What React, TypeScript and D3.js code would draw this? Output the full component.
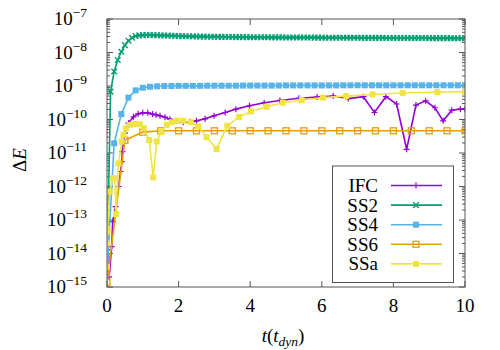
import React from 'react';
import * as d3 from 'd3';

// IFC: irregular output times
const ifcT = [0, 0.01, 0.02, 0.03, 0.06, 0.13, 0.16, 0.24, 0.32, 0.38, 0.41, 0.43, 0.5, 0.6, 0.74, 0.87, 1.0, 1.14, 1.27, 1.37, 1.48, 1.62, 1.76, 1.93, 2.13, 2.32, 2.5, 2.74, 2.99, 3.3, 3.6, 3.98, 4.39, 4.83, 5.36, 5.87, 6.32, 6.74, 7.16, 7.47, 7.79, 8.09, 8.37, 8.63, 8.9, 9.16, 9.39, 9.63, 9.87, 10];
const ifcE = [1.3e-14, 8e-15, 5e-15, 3.5e-15, 2e-15, 1.6e-14, 8.9e-14, 2.5e-13, 1e-12, 2.8e-12, 5.5e-12, 1.1e-11, 3.9e-11, 7.8e-11, 1.2e-10, 1.48e-10, 1.58e-10, 1.58e-10, 1.45e-10, 1.38e-10, 1.29e-10, 1.17e-10, 1.02e-10, 9.1e-11, 8.3e-11, 8.5e-11, 9.1e-11, 1.05e-10, 1.29e-10, 1.62e-10, 2.04e-10, 2.57e-10, 3.16e-10, 3.7e-10, 4.3e-10, 4.7e-10, 5.0e-10, 4.2e-10, 4.8e-10, 1.62e-10, 4.8e-10, 2.9e-10, 1.29e-11, 2.7e-10, 3.6e-10, 2.24e-10, 9.1e-11, 1.9e-10, 2.04e-10, 2.04e-10];

// SS2: output every 0.1
const ss2E = [2.5e-15, 6.8e-10, 2.7e-9, 6.0e-9, 1.05e-8, 1.66e-8, 2.24e-8, 2.75e-8, 3.1e-8, 3.25e-8,
  3.3e-8, 3.32e-8, 3.32e-8, 3.3e-8, 3.28e-8, 3.25e-8, 3.22e-8, 3.19e-8, 3.16e-8, 3.13e-8,
  3.1e-8, 3.08e-8, 3.06e-8, 3.04e-8, 3.02e-8, 3.0e-8, 2.98e-8, 2.97e-8, 2.96e-8, 2.95e-8,
  2.94e-8, 2.93e-8, 2.92e-8, 2.91e-8, 2.9e-8, 2.89e-8, 2.88e-8, 2.88e-8, 2.87e-8, 2.87e-8,
  2.86e-8, 2.86e-8, 2.85e-8, 2.85e-8, 2.84e-8, 2.84e-8, 2.83e-8, 2.83e-8, 2.82e-8, 2.82e-8,
  2.81e-8, 2.81e-8, 2.8e-8, 2.8e-8, 2.8e-8, 2.79e-8, 2.79e-8, 2.79e-8, 2.78e-8, 2.78e-8,
  2.78e-8, 2.77e-8, 2.77e-8, 2.77e-8, 2.76e-8, 2.76e-8, 2.76e-8, 2.75e-8, 2.75e-8, 2.75e-8,
  2.75e-8, 2.74e-8, 2.74e-8, 2.74e-8, 2.73e-8, 2.73e-8, 2.73e-8, 2.73e-8, 2.72e-8, 2.72e-8,
  2.72e-8, 2.72e-8, 2.71e-8, 2.71e-8, 2.71e-8, 2.71e-8, 2.7e-8, 2.7e-8, 2.7e-8, 2.7e-8,
  2.69e-8, 2.69e-8, 2.69e-8, 2.68e-8, 2.68e-8, 2.68e-8, 2.68e-8, 2.67e-8, 2.67e-8, 2.67e-8,
  2.67e-8];

// SS4: output every 0.2
const ss4E = [2.5e-15, 1.95e-11, 1.45e-10, 4.5e-10, 7.4e-10, 8.9e-10, 9.5e-10, 9.8e-10,
  1.0e-9, 1.0e-9, 1.01e-9, 1.01e-9, 1.01e-9, 1.01e-9, 1.02e-9, 1.02e-9, 1.02e-9, 1.02e-9,
  1.02e-9, 1.03e-9, 1.03e-9, 1.03e-9, 1.03e-9, 1.03e-9, 1.03e-9, 1.04e-9, 1.04e-9, 1.04e-9,
  1.04e-9, 1.04e-9, 1.04e-9, 1.04e-9, 1.04e-9, 1.05e-9, 1.05e-9, 1.05e-9, 1.05e-9, 1.05e-9,
  1.05e-9, 1.05e-9, 1.05e-9, 1.05e-9, 1.05e-9, 1.05e-9, 1.05e-9, 1.05e-9, 1.05e-9, 1.05e-9,
  1.05e-9, 1.05e-9, 1.05e-9];

// SS6: output every 0.5
const ss6E = [1.4e-15, 2.4e-11, 4.2e-11, 4.6e-11, 4.6e-11, 4.6e-11, 4.6e-11, 4.6e-11, 4.6e-11,
  4.6e-11, 4.6e-11, 4.6e-11, 4.6e-11, 4.6e-11, 4.6e-11, 4.6e-11, 4.6e-11, 4.6e-11, 4.6e-11,
  4.6e-11, 4.6e-11];

// SSa: irregular output times
const ssaT = [0, 0.005, 0.01, 0.015, 0.07, 0.16, 0.22, 0.25, 0.32, 0.41, 0.46, 0.53, 0.64, 0.78, 0.92, 1.03, 1.18, 1.29, 1.39, 1.52, 1.67, 1.81, 1.96, 2.13, 2.34, 2.55, 2.78, 3.06, 3.36, 3.69, 4.02, 4.46, 4.91, 5.44, 6.03, 6.68, 7.42, 8.26, 9.23, 10];
const ssaE = [4e-15, 2e-14, 5.6e-14, 4.5e-14, 7e-13, 1.74e-12, 1.74e-12, 1.5e-13, 4.9e-12, 2.2e-11, 3.5e-11, 5.5e-11, 6.9e-11, 7.4e-11, 7.2e-11, 5.5e-11, 2.45e-11, 1.86e-12, 2.2e-11, 4.4e-11, 6.9e-11, 8.3e-11, 9.1e-11, 9.1e-11, 8.3e-11, 6.2e-11, 2.95e-11, 1.32e-11, 6.5e-11, 1.2e-10, 1.74e-10, 2.4e-10, 3.16e-10, 3.8e-10, 4.5e-10, 5.0e-10, 5.6e-10, 6.2e-10, 6.6e-10, 6.8e-10];

const xTicks = [0, 2, 4, 6, 8, 10];
const yExps = [-7, -8, -9, -10, -11, -12, -13, -14, -15];

const FONT = "'Liberation Serif', 'DejaVu Serif', serif";
const AXIS = '#555';

type Pt = { t: number; e: number };

const series = [
  { name: 'IFC', color: '#9400d3', marker: 'plus', pts: ifcT.map((t, i) => ({ t, e: ifcE[i] })) },
  { name: 'SS2', color: '#009e73', marker: 'cross', pts: ss2E.map((e, i) => ({ t: i * 0.1, e })) },
  { name: 'SS4', color: '#56b4e9', marker: 'square', pts: ss4E.map((e, i) => ({ t: i * 0.2, e })) },
  { name: 'SS6', color: '#e69f00', marker: 'open', pts: ss6E.map((e, i) => ({ t: i * 0.5, e })) },
  { name: 'SSa', color: '#f0e442', marker: 'square', pts: ssaT.map((t, i) => ({ t, e: ssaE[i] })) },
];

function Marker({ kind, x, y, color }: { kind: string; x: number; y: number; color: string }) {
  if (kind === 'plus') {
    return <path d={`M${x - 3},${y}H${x + 3}M${x},${y - 3}V${y + 3}`} stroke={color} strokeWidth={1.2} />;
  }
  if (kind === 'cross') {
    return <path d={`M${x - 2.8},${y - 2.8}L${x + 2.8},${y + 2.8}M${x - 2.8},${y + 2.8}L${x + 2.8},${y - 2.8}`} stroke={color} strokeWidth={1.4} />;
  }
  if (kind === 'open') {
    return <rect x={x - 3} y={y - 3} width={6} height={6} fill="none" stroke={color} strokeWidth={1.3} />;
  }
  return <rect x={x - 3} y={y - 3} width={6} height={6} fill={color} />;
}

export default function App() {
  const W = 500, H = 350;
  const left = 107, right = 465, top = 19, bottom = 287;

  const x = d3.scaleLinear().domain([0, 10]).range([left, right]);
  const y = d3.scaleLog().domain([1e-15, 1e-7]).range([bottom, top]);

  const line = d3.line<Pt>().x(d => x(d.t)).y(d => y(d.e));

  const minor: number[] = [];
  for (let e = -15; e < -7; e++) {
    for (let k = 2; k <= 9; k++) minor.push(k * Math.pow(10, e));
  }

  return (
    <svg width={W} height={H} style={{ position: 'absolute', left: 0, top: 0, fontFamily: FONT }}>
      <rect width={W} height={H} fill="white" />

      {/* ticks */}
      <g stroke={AXIS} strokeWidth={1}>
        {yExps.map(e => {
          const yy = y(Math.pow(10, e));
          return (
            <g key={e}>
              <line x1={left} x2={left + 6} y1={yy} y2={yy} />
              <line x1={right} x2={right - 6} y1={yy} y2={yy} />
            </g>
          );
        })}
        {minor.map((v, i) => (
          <g key={i}>
            <line x1={left} x2={left + 3} y1={y(v)} y2={y(v)} />
            <line x1={right} x2={right - 3} y1={y(v)} y2={y(v)} />
          </g>
        ))}
        {xTicks.map(t => (
          <g key={t}>
            <line x1={x(t)} x2={x(t)} y1={bottom} y2={bottom - 6} />
            <line x1={x(t)} x2={x(t)} y1={top} y2={top + 6} />
          </g>
        ))}
      </g>

      {/* tick labels */}
      <g fill="#000">
        {yExps.map(e => (
          <text key={e} x={87} y={y(Math.pow(10, e)) + 6} textAnchor="end" fontSize={19}>
            10<tspan dy={-8} fontSize={13.5}>{'\u2212' + Math.abs(e)}</tspan>
          </text>
        ))}
        {xTicks.map(t => (
          <text key={t} x={x(t)} y={312} textAnchor="middle" fontSize={19}>{t}</text>
        ))}
      </g>

      {/* axis labels */}
      <text x={283} y={342} textAnchor="middle" fontSize={19}>
        <tspan fontStyle="italic">t</tspan>(<tspan fontStyle="italic">t</tspan>
        <tspan fontStyle="italic" fontSize={13.5} dy={4}>dyn</tspan>
        <tspan dy={-4}>)</tspan>
      </text>
      <text transform="translate(26,160) rotate(-90)" textAnchor="middle" fontSize={19}>
        Δ<tspan fontStyle="italic">E</tspan>
      </text>

      {/* curves */}
      <defs>
        <clipPath id="plotclip">
          <rect x={left} y={top} width={right - left} height={bottom - top} />
        </clipPath>
      </defs>
      <g clipPath="url(#plotclip)">
        {series.map(s => (
          <g key={s.name}>
            <path d={line(s.pts) || ''} fill="none" stroke={s.color} strokeWidth={1.6} />
            {s.pts.map((p, i) => (
              <Marker key={i} kind={s.marker} x={x(p.t)} y={y(p.e)} color={s.color} />
            ))}
          </g>
        ))}
      </g>

      {/* frame */}
      <rect x={left} y={top} width={right - left} height={bottom - top} fill="none" stroke={AXIS} strokeWidth={1} />

      {/* legend */}
      <rect x={332.5} y={166} width={121} height={116.5} fill="white" stroke={AXIS} strokeWidth={1} />
      {series.map((s, i) => {
        const ly = 185.5 + i * 19.6;
        return (
          <g key={s.name}>
            <text x={378} y={ly + 6.5} textAnchor="end" fontSize={19}>{s.name}</text>
            <line x1={391} x2={442} y1={ly} y2={ly} stroke={s.color} strokeWidth={1.6} />
            <Marker kind={s.marker} x={416} y={ly} color={s.color} />
          </g>
        );
      })}
    </svg>
  );
}
